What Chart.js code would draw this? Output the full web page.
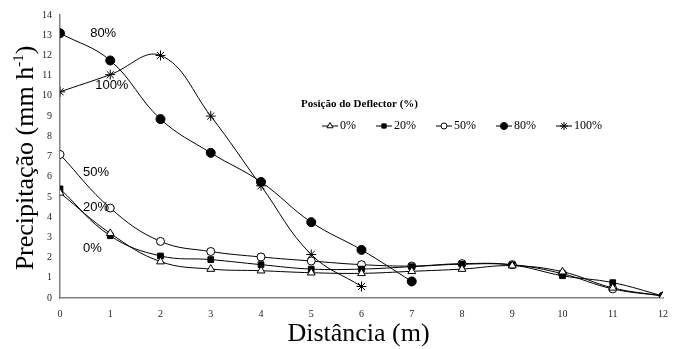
<!DOCTYPE html>
<html><head><meta charset="utf-8">
<script src="https://cdn.jsdelivr.net/npm/chart.js@4/dist/chart.umd.min.js"></script>
<style>html,body{margin:0;padding:0;background:#fff}#w{width:682px;height:349px}</style>
</head><body><div id="w"><canvas id="c"></canvas></div>
<script>
const distances = [0,1,2,3,4,5,6,7,8,9,10,11,12];
const s0   = [5.2,3.2,1.8,1.43,1.35,1.25,1.22,1.32,1.43,1.6,1.3,0.5,0.1];
const s20  = [5.4,3.08,2.08,1.9,1.65,1.43,1.43,1.55,1.67,1.63,1.1,0.76,0.1];
const s50  = [7.1,4.45,2.8,2.3,2.03,1.83,1.65,1.58,1.7,1.65,1.2,0.45,0.1];
const s80  = [13.1,11.75,8.85,7.18,5.74,3.75,2.38,0.82];
const s100 = [10.2,11.05,12.0,9.0,5.55,2.15,0.57];
const seriesNames = ['0%','20%','50%','80%','100%'];
const yTicks = [0,1,2,3,4,5,6,7,8,9,10,11,12,13,14];
const xTicks = distances;

const toPts = arr => arr.map((v,i)=>({x:distances[i],y:v}));
const styles = [
  {pointStyle:'triangle', bg:'#fff', r:4.5},
  {pointStyle:'rect', bg:'#000', r:4},
  {pointStyle:'circle', bg:'#fff', r:4},
  {pointStyle:'circle', bg:'#000', r:4.5},
  {pointStyle:'star', bg:'#000', r:5}
];
const data = [s0,s20,s50,s80,s100];
const SERIF = '"Liberation Serif", "Times New Roman", serif';

const overlay = {
  id:'overlay',
  afterDraw(chart){
    const ctx = chart.ctx;
    const xs = chart.scales.x, ys = chart.scales.y;
    ctx.save();
    ctx.fillStyle='#000';
    ctx.font='13px "Liberation Sans", Arial, sans-serif';
    ctx.textBaseline='middle';
    ctx.textAlign='left';
    const lab = [['80%',0.6,13.07],['100%',0.7,10.5],['50%',0.46,6.19],['20%',0.46,4.46],['0%',0.46,2.43]];
    lab.forEach(l=>ctx.fillText(l[0], xs.getPixelForValue(l[1]), ys.getPixelForValue(l[2])));
    // legend
    ctx.font='bold 11px '+SERIF;
    ctx.fillText('Posição do Deflector (%)', 301, 104);
    const lx = [322,376,436,496,556];
    lx.forEach((x,i)=>{
      const y = 126;
      ctx.strokeStyle='#000'; ctx.lineWidth=1;
      ctx.beginPath(); ctx.moveTo(x,y); ctx.lineTo(x+16,y); ctx.stroke();
      ctx.fillStyle=styles[i].bg;
      ctx.strokeStyle='#000';
      Chart.helpers.drawPoint(ctx,{pointStyle:styles[i].pointStyle,radius:styles[i].r-1,borderWidth:1,rotation:0},x+8,y);
      ctx.fillStyle='#000';
      ctx.font='12px '+SERIF;
      ctx.fillText(seriesNames[i], x+18, y);
    });
    // axis titles
    ctx.font='26px '+SERIF;
    ctx.textAlign='center';
    ctx.textBaseline='alphabetic';
    ctx.fillStyle='#000';
    ctx.fillText('Distância (m)', (xs.left+xs.right)/2 - 3, 341);
    ctx.save();
    ctx.translate(33, 158);
    ctx.rotate(-Math.PI/2);
    const main='Precipitação (mm h';
    const sup='-1';
    ctx.font='26px '+SERIF;
    const w1=ctx.measureText(main).width;
    const w3=ctx.measureText(')').width;
    ctx.font='15px '+SERIF;
    const w2=ctx.measureText(sup).width;
    let x0=-(w1+w2+w3)/2;
    ctx.textAlign='left';
    ctx.font='26px '+SERIF;
    ctx.fillText(main,x0,0);
    ctx.font='15px '+SERIF;
    ctx.fillText(sup,x0+w1,-10);
    ctx.font='26px '+SERIF;
    ctx.fillText(')',x0+w1+w2,0);
    ctx.restore();
    ctx.restore();
  }
};

new Chart(document.getElementById('c'),{
  type:'line',
  data:{datasets:data.map((d,i)=>({
    label:seriesNames[i],
    data:toPts(d),
    borderColor:'#000',
    borderWidth:1,
    backgroundColor:styles[i].bg,
    pointBackgroundColor:styles[i].bg,
    pointBorderColor:'#000',
    pointBorderWidth:1,
    pointStyle:styles[i].pointStyle,
    pointRadius:styles[i].r,
    tension:0.4,
    fill:false
  }))},
  options:{
    responsive:true, maintainAspectRatio:false, animation:false,
    layout:{padding:{top:15,right:19,left:0,bottom:0}},
    plugins:{legend:{display:false},tooltip:{enabled:false}},
    scales:{
      x:{type:'linear',min:0,max:12,
        afterBuildTicks:s=>{s.ticks=xTicks.map(v=>({value:v}));},
        afterFit:s=>{s.height=51;},
        grid:{display:false,drawTicks:true,tickLength:4,color:'#808080'},
        border:{color:'#808080',width:1.5},
        ticks:{color:'#222',font:{family:SERIF,size:10},padding:6,maxRotation:0}
      },
      y:{type:'linear',min:0,max:14,
        afterBuildTicks:s=>{s.ticks=yTicks.map(v=>({value:v}));},
        afterFit:s=>{s.width=60;},
        grid:{display:false,drawTicks:true,tickLength:4,color:'#808080'},
        border:{color:'#808080',width:1.5},
        ticks:{color:'#222',font:{family:SERIF,size:10},padding:4}
      }
    }
  },
  plugins:[overlay]
});
</script></body></html>
